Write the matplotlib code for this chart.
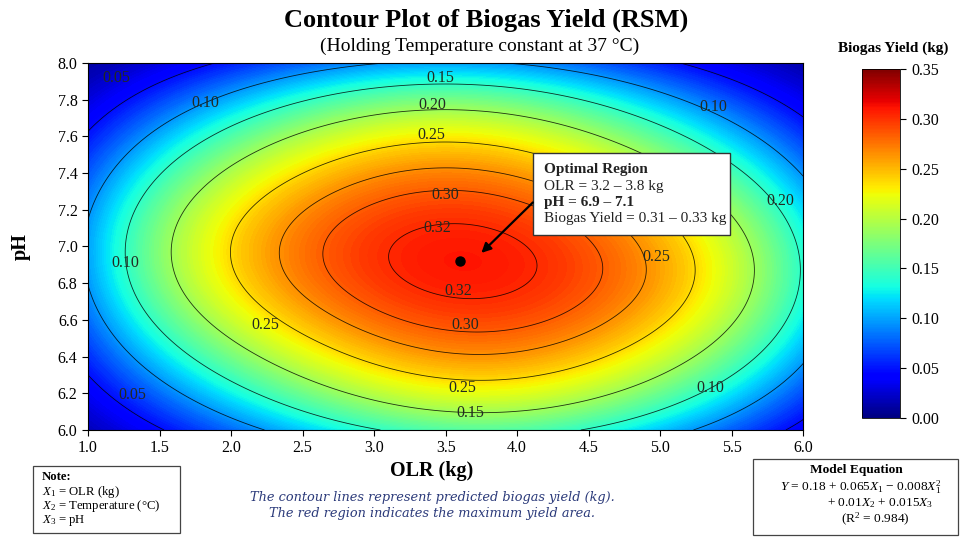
import numpy as np
import matplotlib
matplotlib.use("Agg")
import matplotlib.pyplot as plt
from matplotlib.colors import Normalize
from matplotlib.cm import ScalarMappable
from matplotlib.patches import Rectangle

plt.rcParams['font.family'] = ['Liberation Serif', 'DejaVu Serif']
plt.rcParams['mathtext.fontset'] = 'custom'
plt.rcParams['mathtext.rm'] = 'Liberation Serif'
plt.rcParams['mathtext.it'] = 'Liberation Serif:italic'
plt.rcParams['mathtext.bf'] = 'Liberation Serif:bold'

# --- response surface, shape ---
olr_range = [1.0, 6.0]
ph_range = [6.0, 8.0]
optimum = [3.62, 6.92]          # OLR, pH at the peak
peak_yield = 0.328
olr_terms = [0.093, 0.00155]    # dOLR^2, dOLR^6
ph_terms = [0.60, 0.28]         # dpH^2, dpH^6
cross_terms = [0.15, 0.06]      # dOLR^2*dpH^2, dOLR*dpH

line_levels = [0.05, 0.10, 0.15, 0.20, 0.25, 0.28, 0.30, 0.32]
cbar_ticks = [0.00, 0.05, 0.10, 0.15, 0.20, 0.25, 0.30, 0.35]
x_ticks = [1.0, 1.5, 2.0, 2.5, 3.0, 3.5, 4.0, 4.5, 5.0, 5.5, 6.0]
y_ticks = [6.0, 6.2, 6.4, 6.6, 6.8, 7.0, 7.2, 7.4, 7.6, 7.8, 8.0]

# contour labels as printed in the chart
label_text = ["0.05", "0.10", "0.15", "0.20", "0.25", "0.30", "0.32", "0.10", "0.20",
              "0.10", "0.25", "0.32", "0.25", "0.30", "0.25", "0.15", "0.05", "0.10"]
label_olr = [1.20, 1.82, 3.46, 3.41, 3.40, 3.50, 3.44, 5.37, 5.84,
             1.26, 4.97, 3.59, 2.24, 3.64, 3.62, 3.67, 1.31, 5.35]
label_ph = [7.92, 7.78, 7.92, 7.77, 7.61, 7.28, 7.10, 7.76, 7.25,
            6.91, 6.94, 6.76, 6.57, 6.57, 6.23, 6.09, 6.19, 6.23]

optimal_lines = ["Optimal Region", "OLR = 3.2 – 3.8 kg", "pH = 6.9 – 7.1",
                 "Biogas Yield = 0.31 – 0.33 kg"]
optimal_bold = [True, False, True, False]

note_lines = ["Note:", r"$X_1$ = OLR (kg)", r"$X_2$ = Temperature (°C)", r"$X_3$ = pH"]
note_y = [477, 491.5, 506, 520.5]
eq_lines = ["Model Equation", r"$Y$ = 0.18 + 0.065$X_1$ − 0.008$X_1^2$",
            r"+ 0.01$X_2$ + 0.015$X_3$", r"(R$^2$ = 0.984)"]
eq_x = [856, 861, 880, 875]
eq_y = [470, 487.5, 503.5, 519]

# grid
olr = np.linspace(olr_range[0], olr_range[1], 500)
ph = np.linspace(ph_range[0], ph_range[1], 400)
X, Y = np.meshgrid(olr, ph)
dx = X - optimum[0]
dy = Y - optimum[1]
Q = (olr_terms[0] * dx**2 + olr_terms[1] * dx**6
     + ph_terms[0] * dy**2 + ph_terms[1] * dy**6
     + cross_terms[0] * dx**2 * dy**2 + cross_terms[1] * dx * dy)
Z = peak_yield * np.exp(-Q)

fig = plt.figure(figsize=(9.6, 5.37), dpi=100)
ax = fig.add_axes([0.0917, 0.1993, 0.745, 0.6834])

fill_norm = Normalize(vmin=0.0, vmax=0.37)
ax.contourf(X, Y, Z, levels=np.linspace(0, 0.35, 141), cmap='jet', norm=fill_norm)
ax.contour(X, Y, Z, levels=line_levels, colors='black', linewidths=0.6, alpha=0.8)

for t, xv, yv in zip(label_text, label_olr, label_ph):
    ax.text(xv, yv, t, ha='center', va='center', fontsize=11.5, color='#222a22')

# optimum point + annotation box
ax.plot(optimum[0] - 0.02, optimum[1], 'o', color='black', markersize=6.5)
ax.add_patch(Rectangle((4.11, 7.06), 1.38, 0.45, fc='white', ec='#333333', lw=1.0,
                       zorder=5))
for i, (line, bold) in enumerate(zip(optimal_lines, optimal_bold)):
    ax.text(4.19, 7.417 - i * 0.089, line, ha='left', va='center', fontsize=11,
            fontweight='bold' if bold else 'normal', color='#222222', zorder=6)
ax.annotate("", xy=(3.75, 6.965), xytext=(4.11, 7.24),
            arrowprops=dict(arrowstyle='-|>', color='black', lw=1.6,
                            mutation_scale=14, shrinkA=0, shrinkB=0), zorder=6)

ax.set_xlim(olr_range)
ax.set_ylim(ph_range)
ax.set_xticks(x_ticks)
ax.set_yticks(y_ticks)
ax.tick_params(labelsize=11.5, length=4, width=0.8)
ax.set_xlabel("OLR (kg)", fontsize=14.5, fontweight='bold')
ax.xaxis.set_label_coords(0.48, -0.085)
ax.set_ylabel("pH", fontsize=14.5, fontweight='bold')
ax.yaxis.set_label_coords(-0.08, 0.5)

# colorbar
cax = fig.add_axes([0.898, 0.2216, 0.04, 0.65])
cb = fig.colorbar(ScalarMappable(norm=Normalize(0.0, 0.35), cmap='jet'), cax=cax,
                  ticks=cbar_ticks)
cb.ax.set_yticklabels([f"{v:.2f}" for v in cbar_ticks])
cb.ax.tick_params(labelsize=11.5, length=4)
cb.outline.set_linewidth(0.6)
fig.text(893 / 960, 1 - 48 / 537, "Biogas Yield (kg)", ha='center', va='center',
         fontsize=11, fontweight='bold')

# titles
fig.text(486 / 960, 1 - 20 / 537, "Contour Plot of Biogas Yield (RSM)", ha='center',
         va='center', fontsize=19, fontweight='bold')
fig.text(480 / 960, 1 - 46 / 537, "(Holding Temperature constant at 37 °C)",
         ha='center', va='center', fontsize=14)

# note box
fig.patches.append(Rectangle((33 / 960, 1 - 533 / 537), 147 / 960, 67 / 537,
                             transform=fig.transFigure, fc='white', ec='#444444',
                             lw=0.9))
for i, (line, yp) in enumerate(zip(note_lines, note_y)):
    fig.text(42 / 960, 1 - yp / 537, line, ha='left', va='center', fontsize=9.2,
             fontweight='bold' if i == 0 else 'normal')

# model equation box
fig.patches.append(Rectangle((753 / 960, 1 - 535 / 537), 205 / 960, 76 / 537,
                             transform=fig.transFigure, fc='white', ec='#444444',
                             lw=0.9))
for i, (line, xc, yp) in enumerate(zip(eq_lines, eq_x, eq_y)):
    fig.text(xc / 960, 1 - yp / 537, line, ha='center', va='center', fontsize=9.6,
             fontweight='bold' if i == 0 else 'normal')

# italic explanation
expl = ["The contour lines represent predicted biogas yield (kg).",
        "The red region indicates the maximum yield area."]
for i, line in enumerate(expl):
    fig.text(432 / 960, 1 - (497 + i * 17) / 537, line, ha='center', va='center',
             fontsize=9.3, style='italic', family='DejaVu Serif', color='#2b3a7a')

fig.savefig("out.png", dpi=100)
